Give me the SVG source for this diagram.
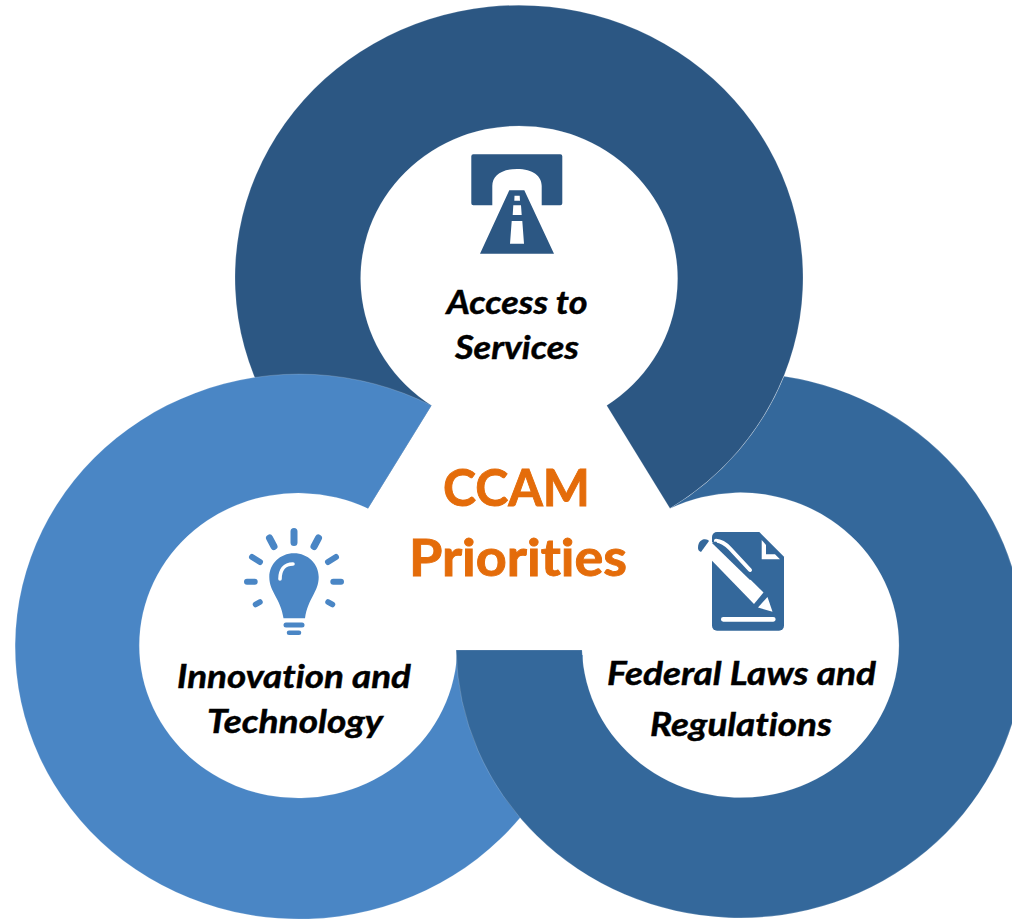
<svg xmlns="http://www.w3.org/2000/svg" width="1012" height="921" viewBox="0 0 1012 921">
<style>
text{font-family:Lato,"Liberation Sans",sans-serif;text-anchor:middle;font-variant-ligatures:none}
.lab{font-weight:700;font-style:italic;font-size:32.5px;fill:#000;stroke:#000;stroke-width:.45}
.ttl{font-weight:700;font-size:51px;fill:#E46C0A;stroke:#E46C0A;stroke-width:.9}
.ring{stroke:#fff;stroke-opacity:.3;stroke-width:.6}
.ray{fill:none;stroke-linecap:round;stroke:#4A86C5}
</style>
<rect width="1012" height="921" fill="#fff"/>
<g id="access">
<path class="ring" fill="#2C5783" d="M606.7 405.5L670 508.5A284 272.5 0 1 0 368 508.5L431.5 405.5A158.5 152.5 0 1 1 606.7 405.5Z"/>
<path fill="#2C5783" fill-rule="evenodd" d="M473.3 154.3H560.3a2 2 0 0 1 2 2V203.3a2 2 0 0 1-2 2H541.7V186C541.7 176 533 169 517 169C501 169 492.3 176 492.3 186V205.3H473.3a2 2 0 0 1-2-2V156.3a2 2 0 0 1 2-2Z"/>
<path fill="#2C5783" fill-rule="evenodd" d="M509.3 190.3H524.3L554 253.7H480ZM514.5 195.7H519.7L520 200.7H514.3ZM513.3 205.3H521L521.7 215H512.7ZM511.7 221H522.3L524 243.7H510Z"/>
<text class="lab" x="517" y="314" textLength="141" lengthAdjust="spacingAndGlyphs">Access to</text>
<text class="lab" x="517" y="359" textLength="124" lengthAdjust="spacingAndGlyphs">Services</text>
</g>
<g id="innovation">
<path class="ring" fill="#4A86C5" d="M431.5 405.5L368 508.5A159 152.5 0 1 0 457 655L583 655A284 272.5 0 1 1 431.5 405.5Z"/>
<path fill="#4A86C5" d="M294 553.3C308 553.3 318.7 564 318.7 577C318.7 592 308 598 305 618.3H283.5C280.5 598 269.3 592 269.3 577C269.3 564 280 553.3 294 553.3Z"/>
<path d="M280 579C280 570 284 564 293 564" fill="none" stroke="#fff" stroke-width="3.6" stroke-linecap="round"/>
<path class="ray" stroke-width="5" d="M286 625H302"/>
<path class="ray" stroke-width="4.5" d="M289 632.7H299"/>
<path class="ray" stroke-width="7" d="M294 531.500V542.500M269.5 538L274 546.500M318.5 538L314 546.500"/>
<path class="ray" stroke-width="6" d="M252 557L260 562M336 557L328 562M247 581.7H254.7M333.3 581.7H341"/>
<path class="ray" stroke-width="5.5" d="M255.5 604.5L260 602M332.5 604.5L328 602"/>
<text class="lab" x="294" y="688" textLength="234" lengthAdjust="spacingAndGlyphs">Innovation and</text>
<text class="lab" x="295" y="733" textLength="176" lengthAdjust="spacingAndGlyphs">Technology</text>
</g>
<g id="federal">
<path class="ring" fill="#34689B" d="M457 650H582A158.5 152.5 0 1 0 670 508.5A284 272.5 0 0 0 784 376.2A284 272.5 0 1 1 456.1 650Z"/>
<path fill="#34689B" d="M717 532H759.3L784 556.7V625.7a5 5 0 0 1-5 5H717a5 5 0 0 1-5-5V537a5 5 0 0 1 5-5Z"/>
<path fill="#34689B" d="M698 548C698 540 704 538 708 540L709 541L701 552C699 551 698 550 698 548Z"/>
<path fill="#fff" d="M761.7 540V559.3H780L775 554.3H766V545Z"/>
<path fill="#fff" d="M705 553.5L712.500 542L763.5 592.500L754 604Z"/>
<path fill="none" stroke="#fff" stroke-width="4" stroke-linecap="round" d="M716 540.7Q723 541 730 548.5L750 570"/>
<path fill="#34689B" d="M712 543L716 541.500L753 578L750 580Z"/>
<path fill="#fff" d="M758 607.500L767.500 597L772.500 611.700Z"/>
<path fill="#fff" d="M723.300 617H773.300a2.300 2.300 0 0 1 0 4.700H723.300a2.300 2.300 0 0 1 0-4.700Z"/>
<text class="lab" x="741.500" y="685" textLength="269" lengthAdjust="spacingAndGlyphs">Federal Laws and</text>
<text class="lab" x="741" y="736" textLength="182" lengthAdjust="spacingAndGlyphs">Regulations</text>
</g>
<g id="center">
<text class="ttl" x="516.500" y="506" textLength="147" lengthAdjust="spacingAndGlyphs">CCAM</text>
<text class="ttl" x="518" y="576" textLength="218" lengthAdjust="spacingAndGlyphs">Priorities</text>
</g>
</svg>
